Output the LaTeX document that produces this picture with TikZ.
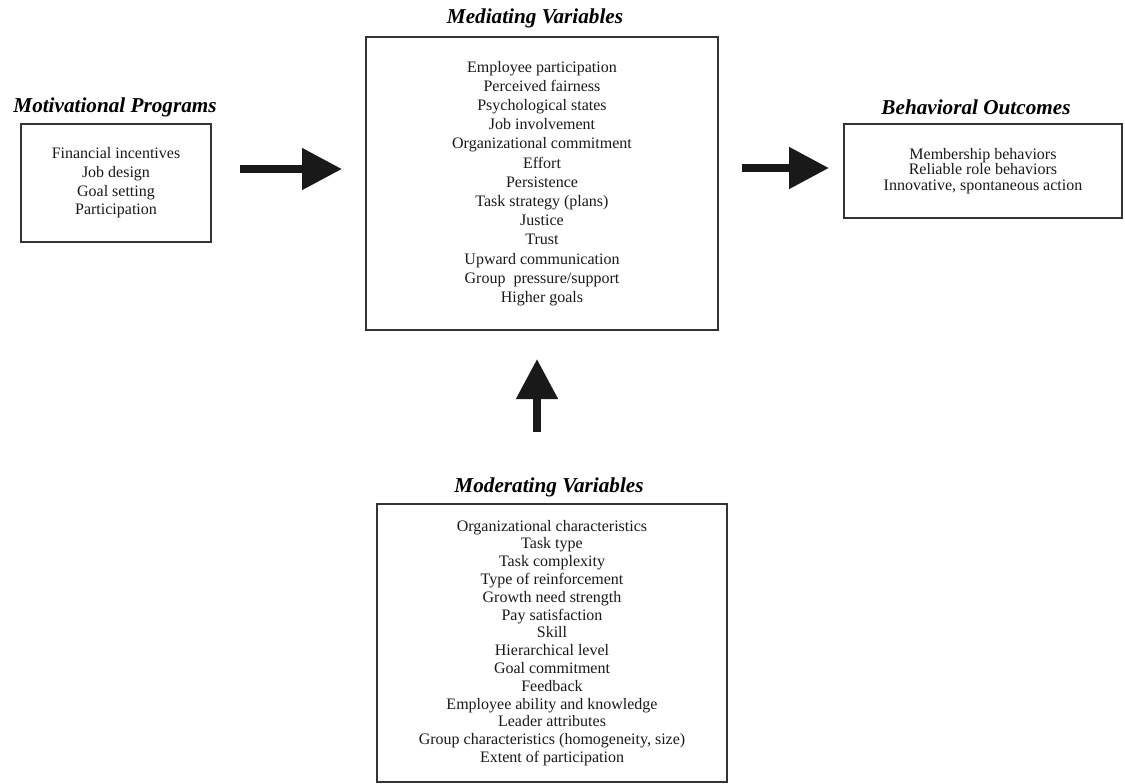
\documentclass[tikz,border=0pt]{standalone}
\usepackage{fontspec}
\setmainfont{Liberation Serif}
\usetikzlibrary{arrows.meta}
\begin{document}
\begin{tikzpicture}[x=0.75pt,y=-0.75pt,line join=miter,
  varbox/.style={draw=black!80,line width=1.1pt,align=center,inner sep=0pt,
    text=black!90,font=\fontsize{12}{#1}\selectfont},
  varbox/.default=14,
  heading/.style={font=\fontsize{15.9}{18}\selectfont\bfseries\itshape},
  bigarrow/.style={line width=6pt,black!90,-{Triangle[length=30pt,width=30pt]}}]
  \useasboundingbox (0,0) rectangle (1125,783);
  % headings
  \node[heading] (motivT) at (115,107) {Motivational Programs};
  \node[heading] (mediT) at (535,18) {Mediating Variables};
  \node[heading] (behavT) at (976,107) {Behavioral Outcomes};
  \node[heading] (moderT) at (549,487) {Moderating Variables};
  % boxes
  \node[varbox=14,minimum width=142.5pt,minimum height=88.5pt] (motiv) at (116,183)
    {Financial incentives\\Job design\\Goal setting\\Participation};
  \node[varbox=14.4,minimum width=264pt,minimum height=219.75pt] (medi) at (542,183.5)
    {Employee participation\\Perceived fairness\\Psychological states\\Job involvement\\
     Organizational commitment\\Effort\\Persistence\\Task strategy (plans)\\Justice\\Trust\\
     Upward communication\\Group\ \ pressure/support\\Higher goals};
  \node[varbox=11.6,minimum width=208.5pt,minimum height=70.5pt] (behav) at (983,171)
    {Membership behaviors\\Reliable role behaviors\\Innovative, spontaneous action};
  \node[varbox=13.35,minimum width=262.5pt,minimum height=208.5pt] (moder) at (552,643)
    {Organizational characteristics\\Task type\\Task complexity\\Type of reinforcement\\
     Growth need strength\\Pay satisfaction\\Skill\\Hierarchical level\\Goal commitment\\
     Feedback\\Employee ability and knowledge\\Leader attributes\\
     Group characteristics (homogeneity, size)\\Extent of participation};
  % arrows
  \coordinate (a1) at (240,169);
  \coordinate (b1) at (342,169);
  \coordinate (a2) at (742,168);
  \coordinate (b2) at (829,168);
  \coordinate (a3) at (537,432);
  \coordinate (b3) at (537,359);
  \draw[bigarrow] (a1) -- (b1);
  \draw[bigarrow] (a2) -- (b2);
  \draw[bigarrow] (a3) -- (b3);
\end{tikzpicture}
\end{document}
